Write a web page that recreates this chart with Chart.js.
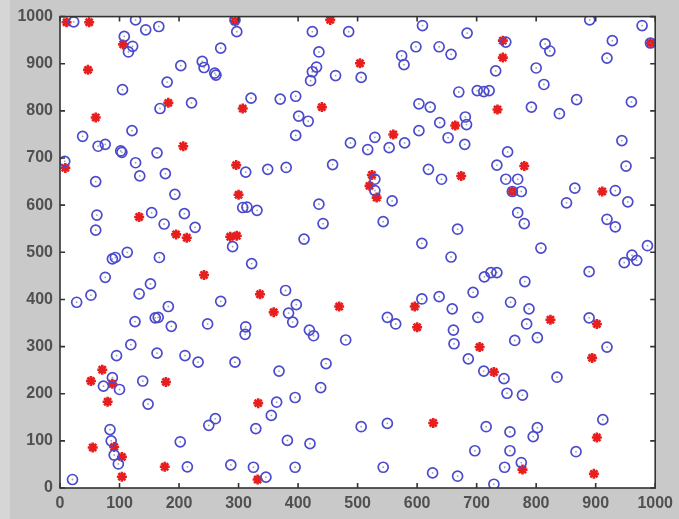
<!DOCTYPE html>
<html>
<head>
<meta charset="utf-8">
<script src="https://cdn.jsdelivr.net/npm/chart.js@4.4.0/dist/chart.umd.min.js"></script>
<style>
  html, body { margin: 0; padding: 0; background: #c9c9c9; }
  #wrap { width: 679px; height: 519px; }
</style>
</head>
<body>
<div id="wrap"><canvas id="plot" width="679" height="519"></canvas></div>
<script>
// tick values / labels (same on both axes)
const tickValues = [0, 100, 200, 300, 400, 500, 600, 700, 800, 900, 1000];
const tickLabels = ['0', '100', '200', '300', '400', '500', '600', '700', '800', '900', '1000'];

// blue circles [x, y]
const circlePoints = [
  [23,989],[127,993],[144,972],[166,979],[108,958],[122,937],[115,925],[105,845],[180,861],[203,896],
  [239,905],[242,892],[260,880],[262,876],[270,933],[168,805],[221,817],[121,758],[38,746],[64,725],
  [76,729],[102,715],[104,712],[163,711],[127,690],[8,693],
  [294,993],[297,968],[424,968],[485,968],[609,981],[435,925],[431,893],[424,883],[421,864],[463,875],
  [506,871],[574,917],[578,898],[598,936],[637,936],[321,827],[370,825],[396,831],[401,789],[417,778],
  [396,748],[603,815],[622,808],[638,775],[603,758],[579,732],[529,744],[488,732],[517,718],[553,722],
  [312,670],[349,676],[380,680],[458,686],[619,676],
  [890,993],[978,981],[684,965],[657,920],[749,946],[815,942],[823,927],[928,949],[919,912],[992,944],
  [732,885],[800,891],[813,856],[670,840],[701,843],[712,841],[721,843],[792,808],[839,794],[868,824],
  [960,819],[681,787],[683,771],[652,743],[680,729],[752,713],[944,737],[734,685],[951,683],
  [134,662],[177,667],[60,650],[193,623],[62,579],[60,547],[154,584],[175,560],[209,582],[227,553],
  [113,500],[88,486],[93,489],[167,489],[76,447],[152,433],[133,412],[52,409],[28,394],[270,396],
  [182,385],[126,353],[160,361],[165,362],[187,343],[248,348],
  [529,655],[529,631],[558,609],[641,655],[307,595],[314,596],[331,589],[435,602],[442,561],[543,565],
  [290,512],[410,528],[608,519],[322,476],[379,419],[397,389],[384,371],[391,352],[608,401],[637,406],
  [550,362],[564,348],[312,342],[419,335],
  [749,655],[769,655],[760,629],[775,629],[865,636],[851,605],[933,631],[954,607],[769,584],[780,561],
  [919,570],[933,554],[668,549],[808,509],[987,514],[961,494],[969,483],[948,478],[657,490],[889,459],
  [713,448],[724,457],[734,457],[781,438],[694,415],[659,380],[757,394],[788,380],[702,362],[889,361],
  [784,348],[661,335],
  [119,304],[95,281],[163,286],[210,281],[232,267],[88,234],[73,216],[100,209],[139,227],[148,178],
  [84,124],[86,100],[91,70],[98,51],[21,18],[202,98],[214,45],[250,133],[261,147],
  [311,326],[426,323],[480,314],[294,267],[368,248],[447,264],[438,213],[395,192],[364,182],[355,154],
  [329,126],[382,101],[420,94],[506,130],[550,137],[287,49],[325,44],[346,23],[395,44],[543,44],[626,32],
  [662,306],[764,313],[802,319],[919,299],[686,274],[712,248],[746,232],[751,201],[777,197],[835,235],
  [716,130],[756,119],[802,128],[795,109],[912,145],[697,79],[756,79],[867,77],[668,25],[747,44],
  [775,54],[729,8]
];

// red stars [x, y]
const starPoints = [
  [11,988],[49,988],[106,941],[47,887],[60,786],[182,817],[207,725],[9,679],
  [294,990],[454,993],[504,901],[307,805],[440,808],[560,750],[296,685],
  [744,949],[744,913],[735,803],[664,769],[780,683],[992,944],
  [133,575],[195,538],[213,531],[242,452],
  [524,664],[520,641],[532,616],[300,622],[286,533],[297,535],[336,411],[359,373],[469,385],[596,385],[600,341],
  [674,662],[760,629],[911,629],[824,357],[902,348],
  [71,251],[52,227],[88,221],[178,225],[80,183],[91,87],[104,66],[104,24],[55,86],[176,45],
  [333,180],[627,138],[332,18],
  [705,299],[894,276],[729,246],[902,107],[777,39],[897,30]
];

const toXY = (arr) => arr.map(p => ({ x: p[0], y: p[1] }));

// gray figure, white axes, frame with inward ticks like matlab
const matlabAxes = {
  id: 'matlabAxes',
  beforeDraw(chart) {
    const { ctx, chartArea: a } = chart;
    ctx.save();
    ctx.fillStyle = '#c9c9c9';
    ctx.fillRect(0, 0, chart.width, chart.height);
    ctx.fillStyle = '#d6d6d6';
    ctx.fillRect(0, 0, 10, chart.height);
    ctx.fillStyle = '#ffffff';
    ctx.fillRect(a.left, a.top, a.right - a.left, a.bottom - a.top);
    ctx.restore();
  },
  afterDraw(chart) {
    const { ctx, chartArea: a, scales } = chart;
    const len = 5;
    ctx.save();
    ctx.strokeStyle = '#333333';
    ctx.lineWidth = 1.6;
    ctx.strokeRect(a.left, a.top, a.right - a.left, a.bottom - a.top);
    ctx.beginPath();
    tickValues.forEach(v => {
      const px = scales.x.getPixelForValue(v);
      ctx.moveTo(px, a.bottom); ctx.lineTo(px, a.bottom - len);
      ctx.moveTo(px, a.top); ctx.lineTo(px, a.top + len);
      const py = scales.y.getPixelForValue(v);
      ctx.moveTo(a.left, py); ctx.lineTo(a.left + len, py);
      ctx.moveTo(a.right, py); ctx.lineTo(a.right - len, py);
    });
    ctx.stroke();
    ctx.restore();
  }
};

const forceTicks = (scale) => { scale.ticks = tickValues.map(v => ({ value: v })); };
const tickFont = { family: 'Liberation Sans, Arial, sans-serif', size: 16, weight: 'bold' };

new Chart(document.getElementById('plot'), {
  type: 'scatter',
  data: {
    datasets: [
      {
        label: 'circles',
        data: toXY(circlePoints),
        pointStyle: 'circle',
        pointRadius: 5,
        borderColor: 'rgb(75,75,205)',
        backgroundColor: 'rgba(0,0,0,0)',
        borderWidth: 1.7
      },
      {
        label: 'circle centres',
        data: toXY(circlePoints),
        pointStyle: 'circle',
        pointRadius: 0.9,
        borderWidth: 0,
        backgroundColor: 'rgba(120,120,150,0.7)'
      },
      {
        label: 'stars',
        data: toXY(starPoints),
        pointStyle: 'star',
        pointRadius: 5,
        borderColor: 'rgb(232,30,30)',
        backgroundColor: 'rgb(232,30,30)',
        borderWidth: 2.6
      }
    ]
  },
  options: {
    responsive: false,
    animation: false,
    devicePixelRatio: 1,
    layout: { padding: { top: 15, right: 16, left: 0, bottom: 0 } },
    plugins: { legend: { display: false }, tooltip: { enabled: false } },
    scales: {
      x: {
        type: 'linear', min: 0, max: 1000,
        afterBuildTicks: forceTicks,
        afterFit: (s) => { s.height = 31; },
        grid: { display: false, drawTicks: false },
        border: { display: false },
        ticks: { padding: 6, color: '#505050', font: tickFont, maxRotation: 0,
                 callback: (v) => tickLabels[tickValues.indexOf(v)] }
      },
      y: {
        type: 'linear', min: 0, max: 1000,
        afterBuildTicks: forceTicks,
        afterFit: (s) => { s.width = 60; },
        grid: { display: false, drawTicks: false },
        border: { display: false },
        ticks: { padding: 7, color: '#505050', font: tickFont,
                 callback: (v) => tickLabels[tickValues.indexOf(v)] }
      }
    }
  },
  plugins: [matlabAxes]
});
</script>
</body>
</html>
